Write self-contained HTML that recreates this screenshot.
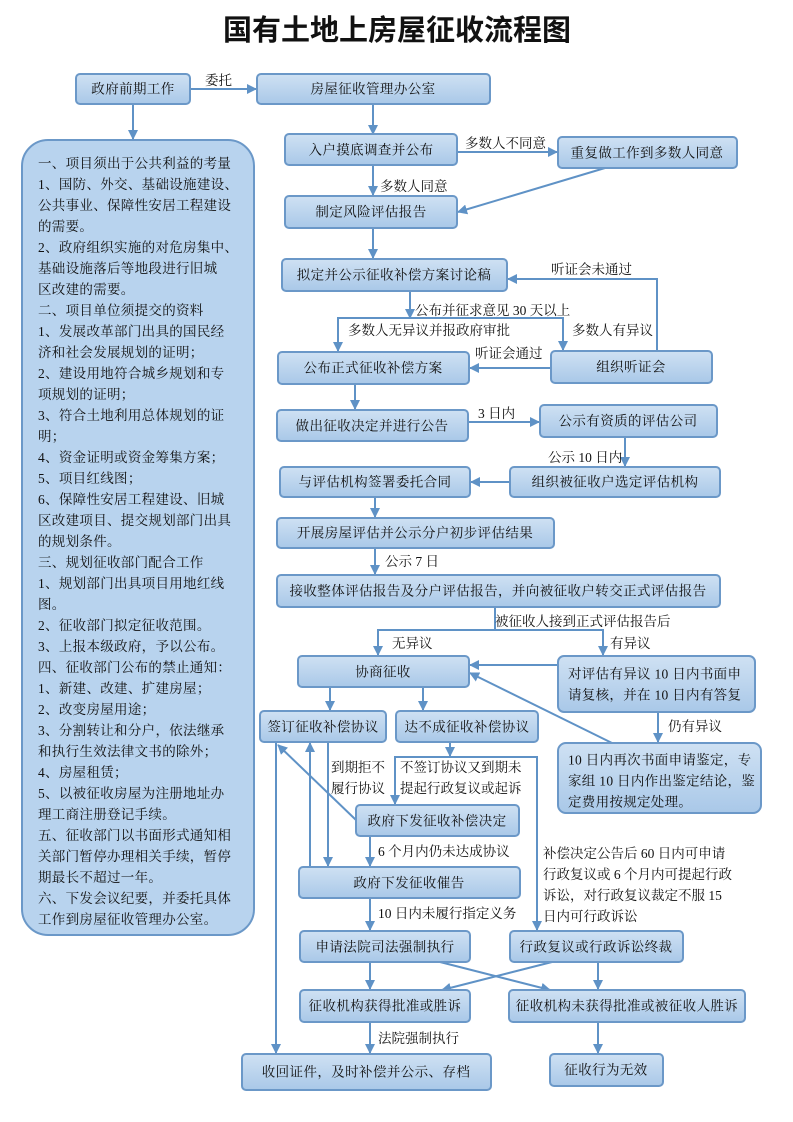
<!DOCTYPE html>
<html><head><meta charset="utf-8"><style>
body{margin:0;background:#fff}
svg{display:block}
text{font-family:"Liberation Serif","Noto Serif CJK SC",serif;fill:#111}
.b{fill:url(#g);stroke:#6b98c8;stroke-width:2}
.t{font-size:13.5px;text-anchor:middle;dominant-baseline:central;letter-spacing:0.4px}
.s{font-size:13.5px;dominant-baseline:central;letter-spacing:0.3px}
.l{font-size:13.5px}
.a{stroke:#5f92c6;stroke-width:2;fill:none}
.m{marker-end:url(#ar)}
</style></head><body>
<svg width="793" height="1122" viewBox="0 0 793 1122">
<defs>
<linearGradient id="g" x1="0" y1="0" x2="0" y2="1"><stop offset="0" stop-color="#cfe1f3"/><stop offset="1" stop-color="#a9c8e8"/></linearGradient>
<marker id="ar" markerWidth="10" markerHeight="10" refX="9" refY="5" orient="auto" markerUnits="userSpaceOnUse"><path d="M0,0 L10,5 L0,10 Z" fill="#5f92c6"/></marker>
</defs>
<text x="397" y="31" style="font-size:29px;font-weight:bold;text-anchor:middle;dominant-baseline:central;font-family:'Liberation Sans','Noto Sans CJK SC',sans-serif">国有土地上房屋征收流程图</text>

<rect x="22" y="140" width="232" height="795" rx="26" fill="#b8d3ee" stroke="#6b98c8" stroke-width="2"/>
<g style="font-size:13.5px;letter-spacing:0.3px">
<text x="38" y="168">一、项目须出于公共利益的考量</text>
<text x="38" y="189">1、国防、外交、基础设施建设、</text>
<text x="38" y="210">公共事业、保障性安居工程建设</text>
<text x="38" y="231">的需要。</text>
<text x="38" y="252">2、政府组织实施的对危房集中、</text>
<text x="38" y="273">基础设施落后等地段进行旧城</text>
<text x="38" y="294">区改建的需要。</text>
<text x="38" y="315">二、项目单位须提交的资料</text>
<text x="38" y="336">1、发展改革部门出具的国民经</text>
<text x="38" y="357">济和社会发展规划的证明；</text>
<text x="38" y="378">2、建设用地符合城乡规划和专</text>
<text x="38" y="399">项规划的证明；</text>
<text x="38" y="420">3、符合土地利用总体规划的证</text>
<text x="38" y="441">明；</text>
<text x="38" y="462">4、资金证明或资金筹集方案；</text>
<text x="38" y="483">5、项目红线图；</text>
<text x="38" y="504">6、保障性安居工程建设、旧城</text>
<text x="38" y="525">区改建项目、提交规划部门出具</text>
<text x="38" y="546">的规划条件。</text>
<text x="38" y="567">三、规划征收部门配合工作</text>
<text x="38" y="588">1、规划部门出具项目用地红线</text>
<text x="38" y="609">图。</text>
<text x="38" y="630">2、征收部门拟定征收范围。</text>
<text x="38" y="651">3、上报本级政府，予以公布。</text>
<text x="38" y="672">四、征收部门公布的禁止通知：</text>
<text x="38" y="693">1、新建、改建、扩建房屋；</text>
<text x="38" y="714">2、改变房屋用途；</text>
<text x="38" y="735">3、分割转让和分户，依法继承</text>
<text x="38" y="756">和执行生效法律文书的除外；</text>
<text x="38" y="777">4、房屋租赁；</text>
<text x="38" y="798">5、以被征收房屋为注册地址办</text>
<text x="38" y="819">理工商注册登记手续。</text>
<text x="38" y="840">五、征收部门以书面形式通知相</text>
<text x="38" y="861">关部门暂停办理相关手续，暂停</text>
<text x="38" y="882">期最长不超过一年。</text>
<text x="38" y="903">六、下发会议纪要，并委托具体</text>
<text x="38" y="924">工作到房屋征收管理办公室。</text>
</g>

<!-- connectors -->
<line class="a m" x1="190" y1="89" x2="256" y2="89"/><text class="l" x="205" y="85">委托</text>
<line class="a m" x1="133" y1="104" x2="133" y2="139"/>
<line class="a m" x1="373" y1="104" x2="373" y2="134"/>
<line class="a m" x1="457" y1="152" x2="557" y2="152"/><text class="l" x="465" y="148">多数人不同意</text>
<line class="a m" x1="373" y1="165" x2="373" y2="195"/><text class="l" x="380" y="191">多数人同意</text>
<line class="a m" x1="605" y1="168" x2="458" y2="212"/>
<line class="a m" x1="373" y1="228" x2="373" y2="258"/>
<line class="a m" x1="410" y1="291" x2="410" y2="318"/><text class="l" x="415" y="315">公布并征求意见 30 天以上</text>
<polyline class="a" points="338,351 338,318 563,318 563,350"/>
<line class="a m" x1="338" y1="320" x2="338" y2="351"/><line class="a m" x1="563" y1="320" x2="563" y2="350"/>
<text class="l" x="348" y="335">多数人无异议并报政府审批</text><text class="l" x="572" y="335">多数人有异议</text>
<polyline class="a m" points="657,351 657,279 508,279"/><text class="l" x="551" y="274">听证会未通过</text>
<line class="a m" x1="551" y1="368" x2="470" y2="368"/><text class="l" x="475" y="358">听证会通过</text>
<line class="a m" x1="355" y1="384" x2="355" y2="409"/>
<line class="a m" x1="468" y1="422" x2="539" y2="422"/><text class="l" x="478" y="418">3 日内</text>
<line class="a m" x1="625" y1="437" x2="625" y2="466"/><text class="l" x="548" y="462">公示 10 日内</text>
<line class="a m" x1="510" y1="482" x2="471" y2="482"/>
<line class="a m" x1="375" y1="497" x2="375" y2="517"/>
<line class="a m" x1="375" y1="548" x2="375" y2="574"/><text class="l" x="385" y="566">公示 7 日</text>
<line class="a" x1="495" y1="607" x2="495" y2="630"/>
<polyline class="a" points="378,655 378,630 603,630 603,655"/>
<line class="a m" x1="378" y1="632" x2="378" y2="655"/><line class="a m" x1="603" y1="632" x2="603" y2="655"/>
<text class="l" x="495" y="626">被征收人接到正式评估报告后</text>
<text class="l" x="392" y="648">无异议</text><text class="l" x="610" y="648">有异议</text>
<line class="a m" x1="558" y1="665" x2="470" y2="665"/>
<line class="a m" x1="658" y1="712" x2="658" y2="742"/><text class="l" x="668" y="731">仍有异议</text>
<line class="a m" x1="612" y1="743" x2="470" y2="673"/>
<line class="a m" x1="330" y1="687" x2="330" y2="710"/>
<line class="a m" x1="423" y1="687" x2="423" y2="710"/>
<line class="a m" x1="450" y1="742" x2="450" y2="756"/>
<polyline class="a" points="395,804 395,757 537,757 537,930"/>
<line class="a m" x1="395" y1="760" x2="395" y2="804"/><line class="a m" x1="537" y1="760" x2="537" y2="930"/>
<text class="l" x="400" y="772">不签订协议又到期未</text><text class="l" x="400" y="793">提起行政复议或起诉</text>
<line class="a m" x1="328" y1="742" x2="328" y2="866"/>
<text class="l" x="331" y="772">到期拒不</text><text class="l" x="331" y="793">履行协议</text>
<line class="a m" x1="356" y1="820" x2="278" y2="745"/>
<line class="a m" x1="310" y1="867" x2="310" y2="743"/>
<line class="a m" x1="276" y1="742" x2="276" y2="1053"/>
<line class="a m" x1="370" y1="836" x2="370" y2="866"/><text class="l" x="378" y="856">6 个月内仍未达成协议</text>
<text class="l" x="543" y="858">补偿决定公告后 60 日内可申请</text>
<text class="l" x="543" y="879">行政复议或 6 个月内可提起行政</text>
<text class="l" x="543" y="900">诉讼，对行政复议裁定不服 15</text>
<text class="l" x="543" y="921">日内可行政诉讼</text>
<line class="a m" x1="370" y1="898" x2="370" y2="930"/><text class="l" x="378" y="918">10 日内未履行指定义务</text>
<line class="a m" x1="370" y1="962" x2="370" y2="989"/>
<line class="a m" x1="598" y1="962" x2="598" y2="989"/>
<line class="a m" x1="440" y1="962" x2="550" y2="990"/>
<line class="a m" x1="552" y1="962" x2="442" y2="990"/>
<line class="a m" x1="370" y1="1022" x2="370" y2="1053"/><text class="l" x="378" y="1043">法院强制执行</text>
<line class="a m" x1="598" y1="1022" x2="598" y2="1053"/>

<!-- boxes -->
<rect class="b" x="76" y="74" width="114" height="30" rx="4"/><text class="t" x="133" y="89">政府前期工作</text>
<rect class="b" x="257" y="74" width="233" height="30" rx="4"/><text class="t" x="373" y="89">房屋征收管理办公室</text>
<rect class="b" x="285" y="134" width="172" height="31" rx="4"/><text class="t" x="371" y="150">入户摸底调查并公布</text>
<rect class="b" x="558" y="137" width="179" height="31" rx="4"/><text class="t" x="647" y="153">重复做工作到多数人同意</text>
<rect class="b" x="285" y="196" width="172" height="32" rx="4"/><text class="t" x="371" y="212">制定风险评估报告</text>
<rect class="b" x="282" y="259" width="225" height="32" rx="4"/><text class="t" x="394" y="275">拟定并公示征收补偿方案讨论稿</text>
<rect class="b" x="278" y="352" width="191" height="32" rx="4"/><text class="t" x="373" y="368">公布正式征收补偿方案</text>
<rect class="b" x="551" y="351" width="161" height="32" rx="4"/><text class="t" x="631" y="367">组织听证会</text>
<rect class="b" x="277" y="410" width="191" height="31" rx="4"/><text class="t" x="372" y="426">做出征收决定并进行公告</text>
<rect class="b" x="540" y="405" width="177" height="32" rx="4"/><text class="t" x="628" y="421">公示有资质的评估公司</text>
<rect class="b" x="280" y="467" width="190" height="30" rx="4"/><text class="t" x="375" y="482">与评估机构签署委托合同</text>
<rect class="b" x="510" y="467" width="210" height="30" rx="4"/><text class="t" x="615" y="482">组织被征收户选定评估机构</text>
<rect class="b" x="277" y="518" width="277" height="30" rx="4"/><text class="t" x="415" y="533">开展房屋评估并公示分户初步评估结果</text>
<rect class="b" x="277" y="575" width="443" height="32" rx="4"/><text class="t" x="498" y="591">接收整体评估报告及分户评估报告，并向被征收户转交正式评估报告</text>
<rect class="b" x="298" y="656" width="171" height="31" rx="4"/><text class="t" x="383" y="672">协商征收</text>
<rect class="b" x="558" y="656" width="197" height="56" rx="6"/><text class="s" x="568" y="674">对评估有异议 10 日内书面申</text><text class="s" x="568" y="695">请复核，并在 10 日内有答复</text>
<rect class="b" x="260" y="711" width="126" height="31" rx="4"/><text class="t" x="323" y="727">签订征收补偿协议</text>
<rect class="b" x="396" y="711" width="142" height="31" rx="4"/><text class="t" x="467" y="727">达不成征收补偿协议</text>
<rect class="b" x="558" y="743" width="203" height="70" rx="8"/><text class="s" x="568" y="760">10 日内再次书面申请鉴定，专</text><text class="s" x="568" y="781">家组 10 日内作出鉴定结论，鉴</text><text class="s" x="568" y="802">定费用按规定处理。</text>
<rect class="b" x="356" y="805" width="163" height="31" rx="4"/><text class="t" x="437" y="821">政府下发征收补偿决定</text>
<rect class="b" x="299" y="867" width="221" height="31" rx="4"/><text class="t" x="409" y="883">政府下发征收催告</text>
<rect class="b" x="300" y="931" width="170" height="31" rx="4"/><text class="t" x="385" y="947">申请法院司法强制执行</text>
<rect class="b" x="510" y="931" width="173" height="31" rx="4"/><text class="t" x="596" y="947">行政复议或行政诉讼终裁</text>
<rect class="b" x="300" y="990" width="170" height="32" rx="4"/><text class="t" x="385" y="1006">征收机构获得批准或胜诉</text>
<rect class="b" x="509" y="990" width="236" height="32" rx="4"/><text class="t" x="627" y="1006">征收机构未获得批准或被征收人胜诉</text>
<rect class="b" x="242" y="1054" width="249" height="36" rx="4"/><text class="t" x="366" y="1072">收回证件，及时补偿并公示、存档</text>
<rect class="b" x="550" y="1054" width="113" height="32" rx="4"/><text class="t" x="606" y="1070">征收行为无效</text>
</svg>
</body></html>
